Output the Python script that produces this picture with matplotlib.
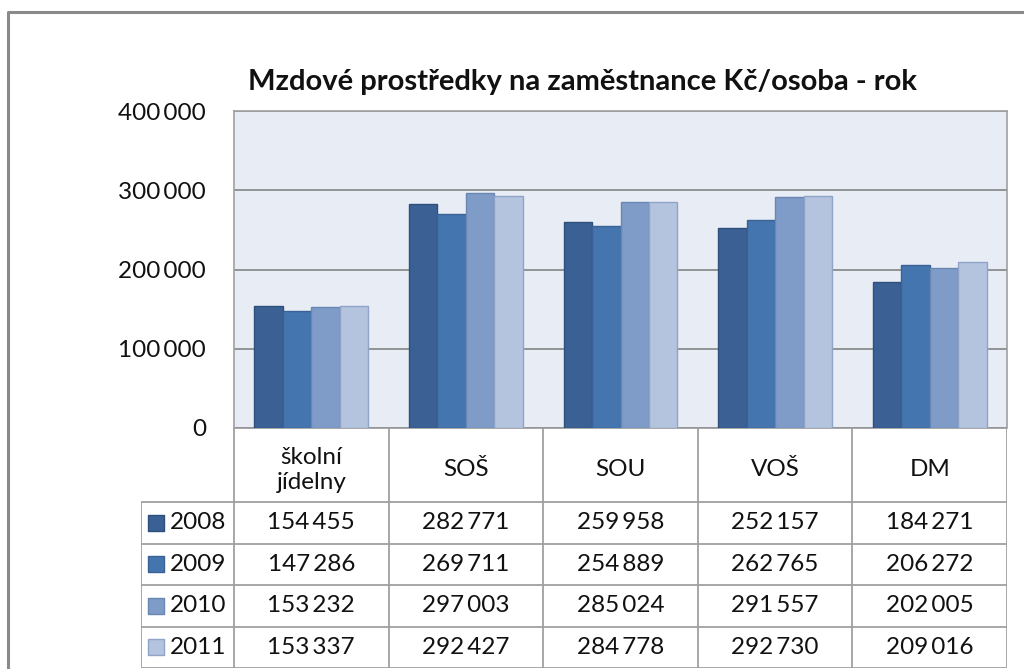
import matplotlib.pyplot as plt
import numpy as np

kategorie = ["školní\njídelny", "SOŠ", "SOU", "VOŠ", "DM"]
roky = ["2008", "2009", "2010", "2011"]
hodnoty_2008 = [154455, 282771, 259958, 252157, 184271]
hodnoty_2009 = [147286, 269711, 254889, 262765, 206272]
hodnoty_2010 = [153232, 297003, 285024, 291557, 202005]
hodnoty_2011 = [153337, 292427, 284778, 292730, 209016]
osa_y = [0, 100000, 200000, 300000, 400000]

barvy = ["#3a6094", "#4575af", "#7f9bc8", "#b4c4df"]
okraje = ["#2f4f7c", "#3a6296", "#6a86b3", "#8ea3c7"]
FONT = ["Lato", "DejaVu Sans"]
W, H = 1024, 669
VEL = 17.5


def fmt(v):
    return f"{v:,}".replace(",", "\u2009")


def px(x0, y0, x1, y1):
    return [x0 / W, 1 - y1 / H, (x1 - x0) / W, (y1 - y0) / H]


def main():
    plt.rcParams['font.family'] = FONT
    fig = plt.figure(figsize=(W / 100, H / 100), dpi=100)

    # ramecek kolem grafu
    ram = fig.add_axes([0, 0, 1, 1])
    ram.set_xlim(0, W)
    ram.set_ylim(H, 0)
    ram.axis("off")
    ram.plot([8, 8, W], [H, 12, 12], color="#8a8a8a", lw=2.2)

    serie = [hodnoty_2008, hodnoty_2009, hodnoty_2010, hodnoty_2011]
    ax = fig.add_axes(px(234, 111, 1007, 428))
    ax.set_facecolor("#e8ecf4")
    x = np.arange(len(kategorie))
    sirka = 0.184
    for i, s in enumerate(serie):
        ax.bar(x + (i - 1.5) * sirka, s, sirka, color=barvy[i],
               edgecolor=okraje[i], linewidth=1, zorder=3)
    ax.set_xlim(-0.5, len(kategorie) - 0.5)
    ax.set_ylim(0, 400000)
    ax.set_yticks(osa_y)
    ax.set_yticklabels([fmt(v) for v in osa_y], fontsize=VEL, color="#111111")
    ax.tick_params(axis="y", length=0, pad=20)
    ax.set_xticks([])
    ax.grid(axis="y", color="#8c8c8c", lw=1.3, zorder=1)
    for s in ax.spines.values():
        s.set_color("#a0a0a0")
        s.set_linewidth(1.2)
    ax.spines["bottom"].set_visible(False)

    fig.text(583 / W, 1 - 82 / H, "Mzdové prostředky na zaměstnance Kč/osoba - rok",
             ha="center", va="center", fontsize=21, fontweight="bold", color="#111111")

    # tabulka dat
    leg_sirka = (234 - 141) / ((1007 - 234) / len(kategorie))
    tab = fig.add_axes(px(141, 428, 1007, 668))
    tab.set_xlim(-0.5 - leg_sirka, len(kategorie) - 0.5)
    tab.set_ylim(240, 0)
    tab.axis("off")
    c = "#a0a0a0"
    lw = 1.3
    hlav = 74
    radek = (240 - hlav) / len(roky)
    x0 = -0.5 - leg_sirka
    x1 = len(kategorie) - 0.5
    tab.plot([-0.5, x1], [0, 0], color=c, lw=lw)
    for r in range(len(roky) + 1):
        y = hlav + r * radek
        tab.plot([x0, x1], [y, y], color=c, lw=lw)
    tab.plot([x0, x0], [hlav, 240], color=c, lw=lw)
    for k in range(len(kategorie) + 1):
        xx = -0.5 + k
        tab.plot([xx, xx], [0, 240], color=c, lw=lw)
    for k, nazev in enumerate(kategorie):
        tab.text(k, hlav / 2 + 5, nazev, ha="center", va="center", fontsize=VEL,
                 color="#111111", linespacing=1.25)
    for r, rok in enumerate(roky):
        yc = hlav + (r + 0.5) * radek
        tab.scatter([x0 + 0.1], [yc], marker="s", s=130, color=barvy[r],
                    edgecolor=okraje[r], linewidth=1, zorder=3)
        tab.text(x0 + 0.19, yc, rok, ha="left", va="center", fontsize=VEL, color="#111111")
        for k in range(len(kategorie)):
            tab.text(k, yc, fmt(serie[r][k]), ha="center", va="center",
                     fontsize=VEL, color="#111111")

    fig.savefig("out.png", dpi=100)


if __name__ == '__main__':
    main()
